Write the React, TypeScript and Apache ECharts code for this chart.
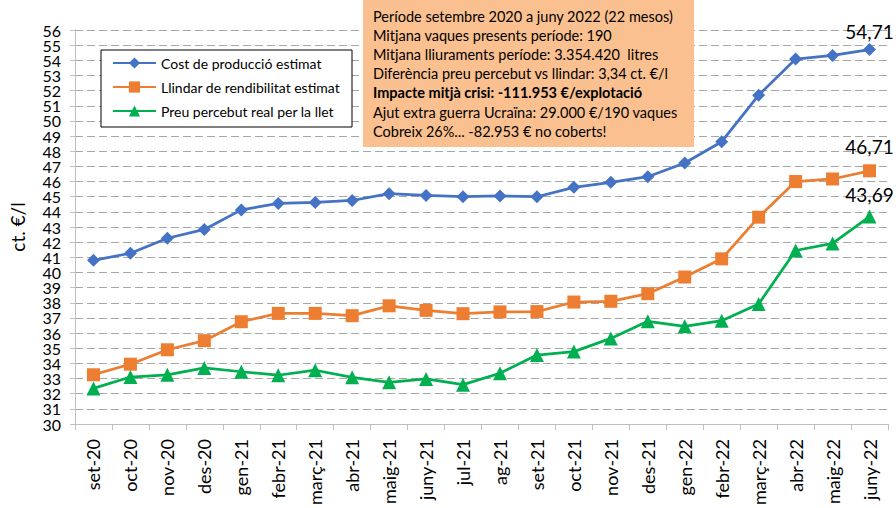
import React, { useEffect, useRef } from "react";
import * as echarts from "echarts";

const categories = [
  "set-20", "oct-20", "nov-20", "des-20", "gen-21", "febr-21", "març-21", "abr-21",
  "maig-21", "juny-21", "jul-21", "ag-21", "set-21", "oct-21", "nov-21", "des-21",
  "gen-22", "febr-22", "març-22", "abr-22", "maig-22", "juny-22",
];

const costProduccio = [
  40.8, 41.27, 42.26, 42.84, 44.13, 44.56, 44.62, 44.75, 45.2, 45.08, 45.0,
  45.05, 45.0, 45.62, 45.95, 46.32, 47.22, 48.63, 51.7, 54.08, 54.32, 54.71,
];

const llindarRendibilitat = [
  33.25, 33.95, 34.9, 35.5, 36.75, 37.3, 37.3, 37.15, 37.8, 37.5, 37.28,
  37.4, 37.42, 38.05, 38.1, 38.6, 39.7, 40.9, 43.65, 46.0, 46.17, 46.71,
];

const preuPercebut = [
  32.35, 33.1, 33.25, 33.7, 33.45, 33.22, 33.55, 33.08, 32.75, 32.98, 32.6,
  33.35, 34.55, 34.78, 35.65, 36.78, 36.45, 36.82, 37.92, 41.45, 41.92, 43.69,
];

const seriesNames = [
  "Cost de producció estimat",
  "Llindar de rendibilitat estimat",
  "Preu percebut real per la llet",
];

const lastLabels = ["54,71", "46,71", "43,69"];

const yMin = 30;
const yMax = 56;
const yStep = 1;

const noteLines = [
  "Període setembre 2020 a juny 2022 (22 mesos)",
  "Mitjana vaques presents període: 190",
  "Mitjana lliuraments període: 3.354.420  litres",
  "Diferència preu percebut vs llindar: 3,34 ct. €/l",
  "Impacte mitjà crisi: -111.953 €/explotació",
  "Ajut extra guerra Ucraïna: 29.000 €/190 vaques",
  "Cobreix 26%... -82.953 € no coberts!",
];
const boldNoteLine = 4;

const FONT = "Lato, 'Noto Sans', sans-serif";

export default function App() {
  const ref = useRef<HTMLDivElement>(null);

  useEffect(() => {
    if (!ref.current) return;
    const chart = echarts.init(ref.current, undefined, { renderer: "svg" });

    const colors = ["#4472C4", "#ED7D31", "#00B050"];
    const symbols = ["diamond", "rect", "triangle"];
    const symbolSizes = [13, 13, 14];
    const labelDist = [2, 8, 6];
    const allData = [costProduccio, llindarRendibilitat, preuPercebut];

    const series = allData.map((vals, s) => ({
      name: seriesNames[s],
      type: "line",
      yAxisIndex: 0,
      data: vals.map((v, i) =>
        i === vals.length - 1
          ? {
              value: v,
              label: {
                show: true,
                position: "top",
                distance: labelDist[s],
                formatter: lastLabels[s],
                fontSize: 19,
                fontFamily: FONT,
                color: "#000",
              },
            }
          : v
      ),
      symbol: symbols[s],
      symbolSize: symbolSizes[s],
      showAllSymbol: true,
      lineStyle: { color: colors[s], width: 2.75 },
      itemStyle: { color: colors[s] },
      z: 3,
    }));

    const noteTop = 16;
    const noteStep = 19.2;

    const yLabelBase = {
      margin: 14,
      fontSize: 16,
      fontFamily: FONT,
      color: "#000",
      showMinLabel: true,
      showMaxLabel: true,
      hideOverlap: false,
    };

    chart.setOption({
      animation: false,
      grid: { left: 73, right: 8, top: 30, bottom: 74, containLabel: false },
      legend: {
        orient: "vertical",
        left: 112,
        top: 56,
        padding: 0,
        itemWidth: 43,
        itemHeight: 14,
        itemGap: 10,
        data: seriesNames,
        textStyle: { fontSize: 14, fontFamily: FONT, color: "#000" },
        z: 20,
      },
      xAxis: {
        type: "category",
        data: categories,
        boundaryGap: true,
        axisLine: { lineStyle: { color: "#BFBFBF", width: 1 } },
        axisTick: { show: true, length: 6, alignWithLabel: false, lineStyle: { color: "#BFBFBF" } },
        axisLabel: {
          rotate: 90,
          interval: 0,
          margin: 15,
          fontSize: 18,
          fontFamily: FONT,
          color: "#000",
        },
      },
      yAxis: [
        {
          type: "value",
          position: "left",
          min: yMin,
          max: yMax,
          interval: yStep,
          name: "ct. €/l",
          nameLocation: "middle",
          nameGap: 48,
          nameTextStyle: { fontSize: 19, fontFamily: FONT, color: "#000" },
          axisLine: { show: true, lineStyle: { color: "#BFBFBF", width: 1 } },
          axisTick: { show: true, length: 5, lineStyle: { color: "#BFBFBF" } },
          axisLabel: {
            ...yLabelBase,
            formatter: (v: number) => (Math.round(v) % 2 === 0 ? String(v) : ""),
          },
          splitLine: { show: true, lineStyle: { color: "#A6A6A6", type: [8, 4], width: 1 } },
        },
        {
          type: "value",
          position: "left",
          offset: 0,
          min: yMin,
          max: yMax,
          interval: yStep,
          axisLine: { show: false },
          axisTick: { show: false },
          splitLine: { show: false },
          axisLabel: {
            ...yLabelBase,
            formatter: (v: number) => (Math.round(v) % 2 !== 0 ? String(v) : ""),
          },
        },
      ],
      graphic: [
        {
          type: "rect",
          z: 10,
          shape: { x: 101, y: 50, width: 251, height: 77 },
          style: { fill: "#FFFFFF", stroke: "#000000", lineWidth: 1 },
        },
        {
          type: "rect",
          z: 10,
          shape: { x: 363, y: 0, width: 331, height: 147 },
          style: { fill: "#FAC090" },
        },
        ...noteLines.map((t, i) => ({
          type: "text",
          z: 11,
          x: 373,
          y: noteTop + i * noteStep,
          style: {
            text: t,
            fontSize: 14.5,
            fontFamily: FONT,
            fontWeight: i === boldNoteLine ? "bold" : "normal",
            fill: "#000",
            verticalAlign: "middle",
          },
        })),
      ],
      series,
    });

    return () => chart.dispose();
  }, []);

  return (
    <div
      ref={ref}
      style={{ position: "fixed", left: 0, top: 0, width: 896, height: 508, background: "#fff" }}
    />
  );
}
